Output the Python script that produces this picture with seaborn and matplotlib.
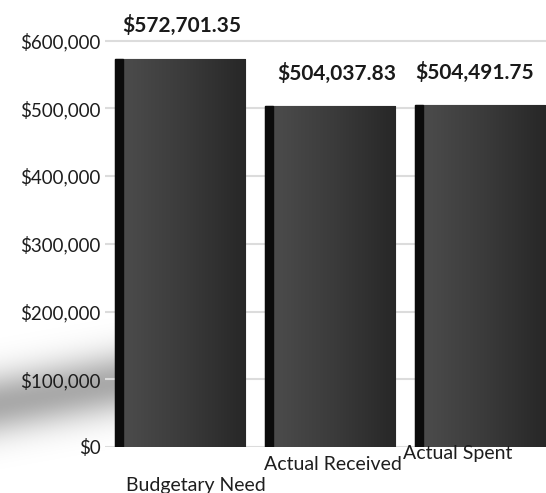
import numpy as np
import pandas as pd
import matplotlib
matplotlib.use("Agg")
import matplotlib.pyplot as plt
from matplotlib.patches import Rectangle
from matplotlib.colors import LinearSegmentedColormap
import seaborn as sns

categories = ["Budgetary Need", "Actual Received", "Actual Spent"]
values = [572701.35, 504037.83, 504491.75]
value_labels = ["$572,701.35", "$504,037.83", "$504,491.75"]
yticks = [0, 100000, 200000, 300000, 400000, 500000, 600000]
ytick_labels = ["$0", "$100,000", "$200,000", "$300,000", "$400,000", "$500,000", "$600,000"]

sns.set_theme(style="white")
plt.rcParams["font.family"] = ["Lato", "DejaVu Sans"]

df = pd.DataFrame({"cat": categories, "val": values})

fig = plt.figure(figsize=(5.46, 4.93), dpi=100)

# soft shadow on the left (decorative background)
shadow_ax = fig.add_axes([0, 0, 1, 1], zorder=0)
H, W = 493, 546
yy, xx = np.mgrid[0:H, 0:W]
center = 403 - xx * 0.18
dist = (yy - center)
sh = np.exp(-(dist ** 2) / (2 * 22.0 ** 2)) * 0.34
sh *= np.clip((135 - xx) / 20.0, 0, 1)
rgba = np.zeros((H, W, 4))
rgba[..., 3] = sh
shadow_ax.imshow(rgba, extent=[0, W, H, 0], aspect="auto")
shadow_ax.set_xlim(0, W)
shadow_ax.set_ylim(H, 0)
shadow_ax.axis("off")

ax = fig.add_axes([105 / 546, 1 - 447 / 493, (546 - 105) / 546, (447 - 27) / 493], zorder=1)
ax.set_facecolor("none")

sns.barplot(data=df, x="cat", y="val", ax=ax, color="#3a3a3a", width=0.87,
            edgecolor="#151515", linewidth=0.8, zorder=3)

ax.set_xlim(-0.5, 2.44)
ax.set_ylim(0, 620000)
ax.set_yticks(yticks)
ax.set_yticklabels(ytick_labels, fontsize=13.5, color="#1e1e1e")
ax.yaxis.grid(True, color="#dcdcdc", linewidth=1.5, zorder=0)
ax.set_axisbelow(True)
ax.set_xlabel("")
ax.set_ylabel("")
ax.set_xticks([])
ax.tick_params(axis="y", length=0, pad=3)
for s in ax.spines.values():
    s.set_visible(False)

# gradient faces and dark side strip
grad = np.linspace(0.0, 1.0, 256).reshape(1, -1)
cmap = LinearSegmentedColormap.from_list("g", ["#4e4e4e", "#3c3c3c", "#272727"])
for p in ax.patches:
    x0, y0 = p.get_x(), p.get_y()
    w, h = p.get_width(), p.get_height()
    im = ax.imshow(grad, cmap=cmap, aspect="auto",
                   extent=[x0, x0 + w, y0, y0 + h], zorder=3.5)
    im.set_clip_path(p)
    ax.add_patch(Rectangle((x0, y0), w * 0.06, h, color="#0c0c0c", zorder=4))

ax.set_xlim(-0.5, 2.44)
ax.set_ylim(0, 620000)

offsets = [(2, 34), (7, 32), (-5, 33)]
for i, (v, lab) in enumerate(zip(values, value_labels)):
    ax.annotate(lab, xy=(i, v), xytext=offsets[i],
                textcoords="offset pixels", ha="center", va="center",
                fontsize=15, fontweight="bold", color="#1a1a1a", annotation_clip=False)

cat_offsets = [(16, -38), (3, -18), (-22, -7)]
for i, c in enumerate(categories):
    ax.annotate(c, xy=(i, 0), xycoords=("data", "axes fraction"),
                xytext=cat_offsets[i], textcoords="offset pixels",
                ha="center", va="center", fontsize=14, color="#1e1e1e",
                annotation_clip=False, zorder=6)

fig.savefig("out.png", dpi=100)
